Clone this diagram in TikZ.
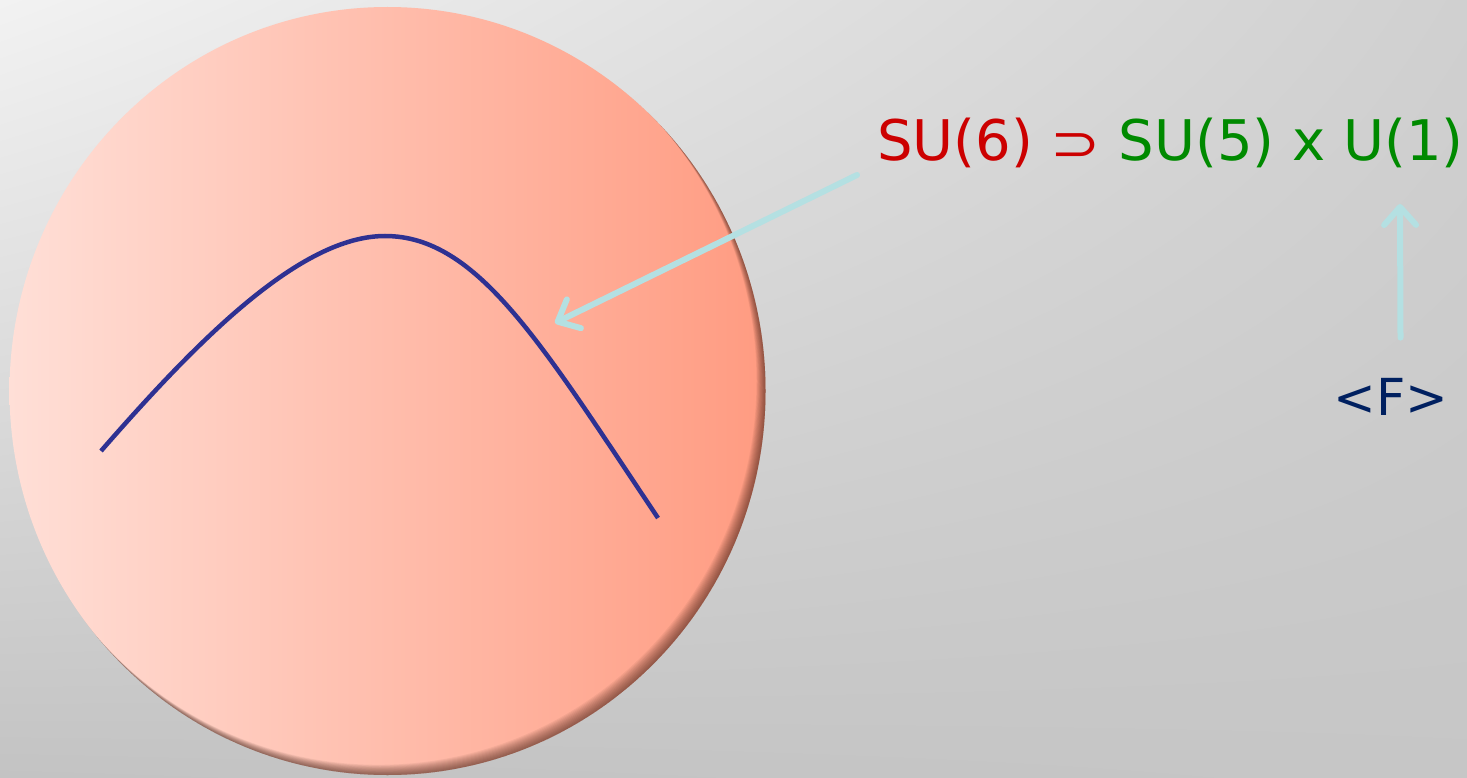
\documentclass[tikz,border=0pt]{standalone}
\usepackage{graphicx}
\usepackage{fontspec}
\setmainfont{DejaVu Sans}
\usetikzlibrary{arrows.meta,positioning,shadings}

\definecolor{bgUL}{HTML}{F2F2F2}
\definecolor{bgUR}{HTML}{D0D0D0}
\definecolor{bgLL}{HTML}{C3C3C3}
\definecolor{bgLR}{HTML}{C6C6C6}
\definecolor{discLeft}{HTML}{FFDFD7}
\definecolor{discRight}{HTML}{FF9B81}
\definecolor{discShade}{HTML}{3A1A10}
\definecolor{hillBlue}{HTML}{2E3192}
\definecolor{pointerCyan}{HTML}{B4E0E2}
\definecolor{suRed}{HTML}{CC0000}
\definecolor{suGreen}{HTML}{008A00}
\definecolor{vevNavy}{HTML}{002060}

\begin{document}
\begin{tikzpicture}[x=1pt, y=-1pt, every node/.style={inner sep=0pt},
  backdrop/.style={upper left=bgUL, upper right=bgUR, lower left=bgLL, lower right=bgLR},
  disc/.style={left color=discLeft, right color=discRight},
  hill/.style={draw=hillBlue, line width=4.5pt},
  pointer/.style={draw=pointerCyan, line width=6pt, line cap=round,
    -{Straight Barb[length=18pt, width=32pt, round]}},
  gut/.style={anchor=base west, font=\fontsize{56}{64}\selectfont},
  vev/.style={anchor=base, text=vevNavy, font=\fontsize{51}{60}\selectfont}]
% backdrop and bounding box
\shade[backdrop] (0,0) rectangle (1467,778);
\useasboundingbox (0,0) rectangle (1467,778);
% the disc with its inner shadow
\shade[disc] (387.5,391) ellipse [x radius=378pt, y radius=384pt];
\begin{scope}
  \clip (387.5,391) ellipse [x radius=378pt, y radius=384pt];
  \foreach \s in {1,...,12}
    \fill[discShade, opacity=0.06, even odd rule] (0,0) rectangle (1467,778)
      ([shift={(-0.75*\s,-0.85*\s)}]387.5,391) ellipse [x radius=378pt, y radius=384pt];
\end{scope}
% potential curve
\draw[hill] (101,451) .. controls (197,341) and (300,236) .. (385,236)
  .. controls (478,236) and (542,345) .. (658,518);
\coordinate (hilltop) at (555,323);
% labels
\node[gut] (breaking) at (877,161) {\textcolor{suRed}{SU(6) \scalebox{1}[0.82]{\fontsize{60}{60}\selectfont ⊃}} \textcolor{suGreen}{SU(5) x U(1)}};
\node[vev] (vev) at (1391,415) {<F>};
\coordinate (tail) at (857,175);
\coordinate (u1) at (1400,204);
% pointers
\draw[pointer] (tail) -- (hilltop);
\draw[pointer] ([xshift=9.5pt, yshift=40pt]vev.north) -- (u1);
\end{tikzpicture}
\end{document}
